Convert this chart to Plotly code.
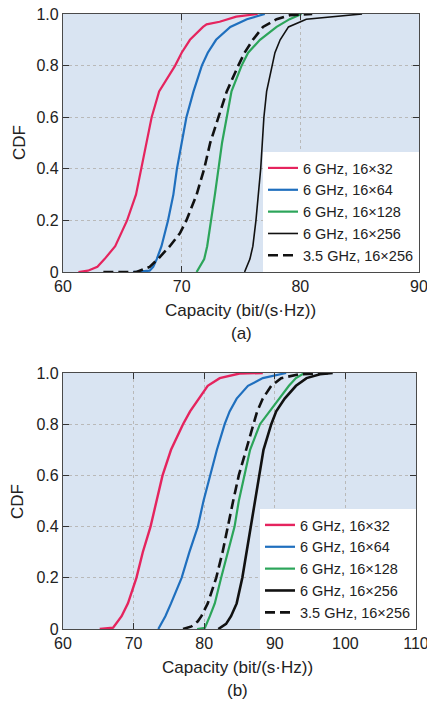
import plotly.graph_objects as go

# ---------------- data ----------------
series_names = ["6 GHz, 16×32", "6 GHz, 16×64", "6 GHz, 16×128", "6 GHz, 16×256", "3.5 GHz, 16×256"]

# Panel (a)
a_pink_x = [61.3, 62.1, 62.9, 63.5, 64.4, 65.4, 66.15, 66.6, 67.05, 67.47, 68.1, 69.45, 70.0, 70.7, 71.8, 72.1, 73.2, 74.6, 76.4]
a_pink_y = [0.0, 0.005, 0.02, 0.05, 0.1, 0.2, 0.3, 0.4, 0.5, 0.6, 0.7, 0.8, 0.85, 0.9, 0.95, 0.96, 0.97, 0.99, 1.0]
a_blue_x = [65.9, 67.3, 67.6, 67.9, 68.3, 68.85, 69.3, 69.6, 70.0, 70.4, 71.0, 71.7, 72.2, 72.9, 74.1, 75.5, 77.0]
a_blue_y = [0.0, 0.005, 0.02, 0.05, 0.1, 0.2, 0.3, 0.4, 0.5, 0.6, 0.7, 0.8, 0.85, 0.9, 0.95, 0.98, 1.0]
a_green_x = [71.26, 71.9, 72.15, 72.5, 72.8, 73.1, 73.4, 73.8, 74.2, 75.05, 75.6, 76.6, 78.0, 79.1, 80.1]
a_green_y = [0.0, 0.05, 0.1, 0.2, 0.3, 0.4, 0.5, 0.6, 0.7, 0.8, 0.85, 0.9, 0.95, 0.98, 1.0]
a_black_x = [75.3, 75.5, 75.75, 76.0, 76.26, 76.66, 76.93, 77.16, 77.6, 77.86, 78.3, 79.0, 80.5, 82.7, 85.2]
a_black_y = [0.0, 0.02, 0.05, 0.1, 0.2, 0.4, 0.6, 0.7, 0.8, 0.85, 0.9, 0.95, 0.98, 0.99, 1.0]
a_dash_x = [63.4, 66.2, 67.3, 68.0, 69.0, 69.85, 70.4, 71.26, 71.9, 72.4, 73.1, 73.8, 74.77, 75.3, 76.0, 76.85, 78.0, 79.1, 81.0]
a_dash_y = [0.0, 0.0, 0.02, 0.05, 0.1, 0.15, 0.2, 0.3, 0.4, 0.5, 0.6, 0.7, 0.8, 0.85, 0.9, 0.95, 0.98, 0.995, 1.0]

# Panel (b)
b_pink_x = [65.2, 67.1, 68.3, 69.2, 70.4, 71.3, 72.4, 73.2, 74.1, 75.3, 77.0, 78.0, 79.3, 80.5, 82.2, 85.0, 88.3]
b_pink_y = [0.0, 0.005, 0.05, 0.1, 0.2, 0.3, 0.4, 0.5, 0.6, 0.7, 0.8, 0.85, 0.9, 0.95, 0.98, 0.998, 1.0]
b_blue_x = [73.5, 74.5, 75.3, 76.8, 77.9, 79.1, 79.9, 80.8, 81.8, 82.9, 83.6, 84.6, 86.2, 88.3, 91.6]
b_blue_y = [0.0, 0.05, 0.1, 0.2, 0.3, 0.4, 0.5, 0.6, 0.7, 0.8, 0.85, 0.9, 0.95, 0.98, 1.0]
b_green_x = [79.0, 80.1, 80.8, 81.5, 82.4, 83.4, 84.3, 84.9, 85.7, 86.5, 87.9, 89.3, 90.7, 92.0, 93.0, 94.2]
b_green_y = [0.0, 0.005, 0.05, 0.1, 0.2, 0.3, 0.4, 0.5, 0.6, 0.7, 0.8, 0.85, 0.9, 0.95, 0.98, 1.0]
b_black_x = [82.0, 83.1, 83.8, 84.6, 85.4, 86.0, 86.5, 87.1, 87.8, 88.4, 89.5, 90.2, 91.4, 93.0, 94.5, 96.4, 98.2]
b_black_y = [0.0, 0.02, 0.05, 0.1, 0.2, 0.3, 0.4, 0.5, 0.6, 0.7, 0.8, 0.85, 0.9, 0.95, 0.98, 0.995, 1.0]
b_dash_x = [77.0, 78.2, 79.1, 79.6, 80.5, 81.7, 82.6, 83.3, 84.1, 84.9, 85.9, 86.9, 87.5, 88.3, 89.5, 90.9, 93.5, 98.2]
b_dash_y = [0.0, 0.01, 0.03, 0.05, 0.1, 0.2, 0.3, 0.4, 0.5, 0.6, 0.7, 0.8, 0.85, 0.9, 0.95, 0.98, 0.995, 1.0]

a_xticks = [60, 70, 80, 90]
b_xticks = [60, 70, 80, 90, 100, 110]
y_ticks = [0, 0.2, 0.4, 0.6, 0.8, 1.0]
y_ticktext = ["0", "0.2", "0.4", "0.6", "0.8", "1.0"]

# ---------------- styling ----------------
W, H = 427, 704
FONT = "Liberation Sans, Arial, sans-serif"
colors = ["#e5245e", "#1f6fbe", "#2ca55a", "#111111", "#111111"]
dashes = ["solid", "solid", "solid", "solid", "10px,5px"]
widths_a = [2.2, 2.2, 2.2, 1.6, 2.6]
widths_b = [2.4, 2.2, 2.2, 2.6, 2.6]

def px2x(p):
    return p / W

def px2y(p):
    return 1 - p / H

fig = go.Figure()

a_data = [(a_pink_x, a_pink_y), (a_blue_x, a_blue_y), (a_green_x, a_green_y),
          (a_black_x, a_black_y), (a_dash_x, a_dash_y)]
b_data = [(b_pink_x, b_pink_y), (b_blue_x, b_blue_y), (b_green_x, b_green_y),
          (b_black_x, b_black_y), (b_dash_x, b_dash_y)]

for i, (xs, ys) in enumerate(a_data):
    fig.add_trace(go.Scatter(x=xs, y=ys, mode="lines", name=series_names[i],
                             line=dict(color=colors[i], width=widths_a[i], dash=dashes[i]),
                             xaxis="x", yaxis="y", legend="legend"))
for i, (xs, ys) in enumerate(b_data):
    fig.add_trace(go.Scatter(x=xs, y=ys, mode="lines", name=series_names[i],
                             line=dict(color=colors[i], width=widths_b[i], dash=dashes[i]),
                             xaxis="x2", yaxis="y2", legend="legend2"))

axis_common = dict(showline=True, linecolor="#4a4a4a", linewidth=1.2, mirror="ticks",
                   ticks="inside", ticklen=6, tickcolor="#333333", tickwidth=1.2,
                   showgrid=True, gridcolor="#b9b9b9", griddash="dot", gridwidth=1,
                   zeroline=False, automargin=False, ticklabeloverflow="allow",
                   tickfont=dict(family=FONT, size=16, color="#222222"))

leg_common = dict(xanchor="right", yanchor="bottom", bgcolor="white", borderwidth=0,
                  tracegroupgap=0, itemwidth=30,
                  font=dict(family=FONT, size=14.5, color="#222222"))

fig.update_layout(
    width=W, height=H,
    margin=dict(l=0, r=0, t=0, b=0, autoexpand=False),
    paper_bgcolor="white", plot_bgcolor="#d9e4f2",
    font=dict(family=FONT, color="#222222"),
    xaxis=dict(domain=[px2x(63), px2x(419)], range=[60, 90], tickvals=a_xticks,
               anchor="y", **axis_common),
    yaxis=dict(domain=[px2y(272), px2y(14)], range=[0, 1], tickvals=y_ticks,
               ticktext=y_ticktext, anchor="x", **axis_common),
    xaxis2=dict(domain=[px2x(63), px2x(416)], range=[60, 110], tickvals=b_xticks,
                anchor="y2", **axis_common),
    yaxis2=dict(domain=[px2y(629), px2y(373)], range=[0, 1], tickvals=y_ticks,
                ticktext=y_ticktext, anchor="x2", **axis_common),
    legend=dict(x=px2x(419), y=px2y(272), **leg_common),
    legend2=dict(x=px2x(416), y=px2y(629), **leg_common),
)

def ann(text, xp, yp, size=17, angle=0):
    fig.add_annotation(text=text, x=px2x(xp), y=px2y(yp), xref="paper", yref="paper",
                       showarrow=False, textangle=angle, xanchor="center", yanchor="middle",
                       font=dict(family=FONT, size=size, color="#222222"))

ann("Capacity (bit/(s·Hz))", 241, 310)
ann("(a)", 242, 333)
ann("CDF", 19, 143, angle=-90)
ann("Capacity (bit/(s·Hz))", 238, 667)
ann("(b)", 238, 690)
ann("CDF", 18, 502, angle=-90)

fig.write_html("out.html", config={"displayModeBar": False},
               post_script="document.body.style.margin='0';document.body.style.overflow='hidden';")
